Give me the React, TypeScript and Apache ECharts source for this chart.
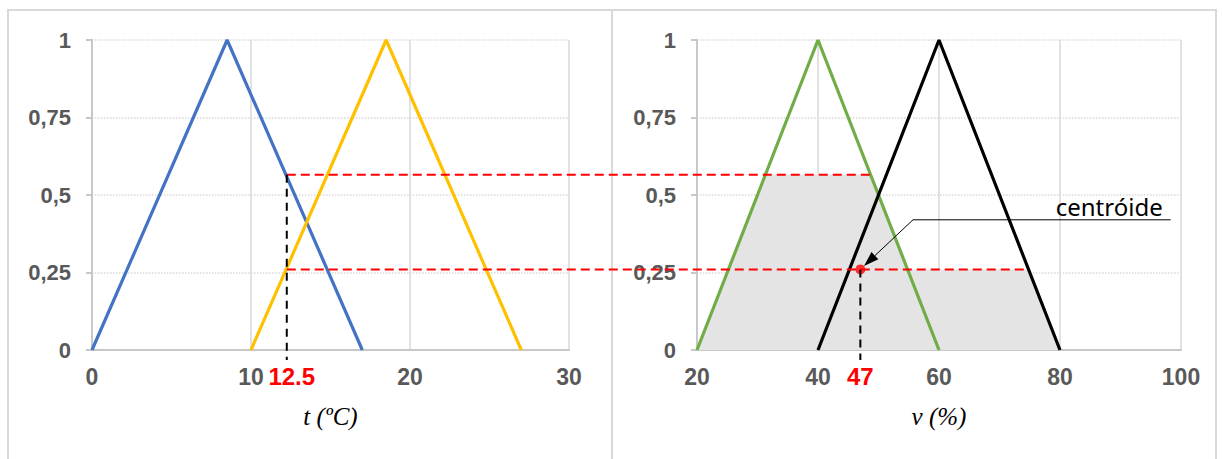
import React, { useEffect, useRef } from "react";
import * as echarts from "echarts";

// ---- data ----
const tTicks = { min: 0, max: 30, interval: 10 };
const vTicks = { min: 20, max: 100, interval: 20 };
const muTicks = { min: 0, max: 1, interval: 0.25 };

const tempLow: number[][] = [[0, 0], [8.5, 1], [17, 0]];
const tempHigh: number[][] = [[10, 0], [18.5, 1], [27, 0]];
const humLow: number[][] = [[20, 0], [40, 1], [60, 0]];
const humHigh: number[][] = [[40, 0], [60, 1], [80, 0]];

const tInput = 12.25;
const tInputLabel = "12.5";
const muLow = 0.565;
const muHigh = 0.26;

const aggregated: number[][] = [[20, 0], [31.3, 0.565], [48.7, 0.565], [54.8, 0.26], [74.8, 0.26], [80, 0]];

const centroid = 47;
const centroidLabel = "47";
const annotationText = "centróide";
const annotationElbow = [55.7, 0.42];
const annotationEnd = [98.3, 0.42];

const tName = "t (ºC)";
const vName = "v (%)";

const labelColor = "#595959";
const gridColor = "#D9D9D9";
const axisColor = "#C8C8C8";

function makeXAxis(gridIndex: number, ticks: any, name: string) {
  return {
    type: "value",
    gridIndex,
    min: ticks.min,
    max: ticks.max,
    interval: ticks.interval,
    name,
    nameLocation: "middle",
    nameGap: 54,
    nameTextStyle: { fontFamily: "Liberation Serif", fontStyle: "italic", fontSize: 25, color: "#000" },
    axisLine: { show: true, lineStyle: { color: axisColor, width: 2 } },
    axisTick: { show: false },
    axisLabel: { margin: 15, color: labelColor, fontWeight: "bold", fontSize: 23, fontFamily: "Liberation Sans" },
    splitLine: { show: true, lineStyle: { color: gridColor, width: 1.5, type: "solid" } },
  };
}

function makeYAxis(gridIndex: number) {
  return {
    type: "value",
    gridIndex,
    min: muTicks.min,
    max: muTicks.max,
    interval: muTicks.interval,
    axisLine: { show: true, onZero: false, lineStyle: { color: axisColor, width: 2 } },
    axisTick: { show: true, length: 6, lineStyle: { color: axisColor, width: 2 } },
    axisLabel: {
      margin: 21,
      color: labelColor,
      fontWeight: "bold",
      fontSize: 22,
      fontFamily: "Liberation Sans",
      formatter: (v: number) => String(v).replace(".", ","),
    },
    splitLine: { show: true, lineStyle: { color: gridColor, width: 1.5, type: "dotted" } },
  };
}

function lineSeries(data: number[][], color: string, idx: number) {
  return {
    type: "line",
    xAxisIndex: idx,
    yAxisIndex: idx,
    data,
    symbol: "none",
    lineStyle: { color, width: 3.2 },
    z: 3,
  };
}

export default function App() {
  const ref = useRef<HTMLDivElement>(null);

  useEffect(() => {
    if (!ref.current) return;
    const chart = echarts.init(ref.current, null, { renderer: "svg" });
    const option: any = {
      animation: false,
      backgroundColor: "#fff",
      grid: [
        { left: 92, top: 40, width: 477, height: 310 },
        { left: 697, top: 40, width: 484, height: 310 },
      ],
      xAxis: [makeXAxis(0, tTicks, tName), makeXAxis(1, vTicks, vName)],
      yAxis: [makeYAxis(0), makeYAxis(1)],
      series: [
        {
          type: "line",
          xAxisIndex: 1,
          yAxisIndex: 1,
          data: aggregated,
          symbol: "none",
          lineStyle: { width: 0, opacity: 0 },
          areaStyle: { color: "#E4E4E4", opacity: 1 },
          z: 1,
        },
        lineSeries(tempLow, "#4472C4", 0),
        lineSeries(tempHigh, "#FFC000", 0),
        lineSeries(humLow, "#70AD47", 1),
        lineSeries(humHigh, "#000000", 1),
        {
          type: "scatter",
          xAxisIndex: 1,
          yAxisIndex: 1,
          data: [[centroid, muHigh]],
          symbolSize: 10,
          itemStyle: { color: "#FF0000" },
          z: 10,
        },
      ],
    };
    chart.setOption(option);

    const p = (g: number, pt: number[]) => chart.convertToPixel({ gridIndex: g } as any, pt) as number[];

    const a1 = p(0, [tInput, muLow]);
    const a2 = p(1, aggregated[2]);
    const b1 = p(0, [tInput, muHigh]);
    const b2 = p(1, aggregated[4]);
    const axisY0 = p(0, [tInput, 0])[1];
    const dot = p(1, [centroid, muHigh]);
    const axisY1 = p(1, [centroid, 0])[1];
    const elbow = p(1, annotationElbow);
    const end = p(1, annotationEnd);

    // arrow
    const dx = elbow[0] - dot[0];
    const dy = elbow[1] - dot[1];
    const len = Math.sqrt(dx * dx + dy * dy);
    const ux = dx / len, uy = dy / len;
    const tip = [dot[0] + ux * 5, dot[1] + uy * 5];
    const base = [tip[0] + ux * 15, tip[1] + uy * 15];
    const px = -uy, py = ux;
    const hw = 5;

    const redDash = { stroke: "#FF0000", lineWidth: 2, lineDash: [9, 5] };
    const blackDash = { stroke: "#000000", lineWidth: 2, lineDash: [8, 6] };

    const graphics: any[] = [
      { type: "rect", z: 0, silent: true, shape: { x: 8, y: 10, width: 1208, height: 470 }, style: { fill: "none", stroke: gridColor, lineWidth: 2 } },
      { type: "line", z: 0, silent: true, shape: { x1: 612, y1: 10, x2: 612, y2: 470 }, style: { stroke: gridColor, lineWidth: 2 } },
      { type: "line", z: 100, shape: { x1: a1[0], y1: a1[1], x2: a2[0], y2: a2[1] }, style: redDash },
      { type: "line", z: 100, shape: { x1: b1[0], y1: b1[1], x2: b2[0], y2: b2[1] }, style: redDash },
      { type: "line", z: 100, shape: { x1: a1[0], y1: a1[1], x2: a1[0], y2: axisY0 + 10 }, style: blackDash },
      { type: "line", z: 100, shape: { x1: dot[0], y1: dot[1], x2: dot[0], y2: axisY1 + 10 }, style: blackDash },
      {
        type: "text", z: 100, x: a1[0] + 5, y: axisY0 + 14,
        style: { text: tInputLabel, fill: "#FF0000", font: "bold 24px 'Liberation Sans'", textAlign: "center", textVerticalAlign: "top" },
      },
      {
        type: "text", z: 100, x: dot[0], y: axisY1 + 14,
        style: { text: centroidLabel, fill: "#FF0000", font: "bold 24px 'Liberation Sans'", textAlign: "center", textVerticalAlign: "top" },
      },
      { type: "line", z: 100, shape: { x1: end[0], y1: end[1], x2: elbow[0], y2: elbow[1] }, style: { stroke: "#000", lineWidth: 1 } },
      { type: "line", z: 100, shape: { x1: elbow[0], y1: elbow[1], x2: base[0], y2: base[1] }, style: { stroke: "#000", lineWidth: 1 } },
      {
        type: "polygon", z: 100,
        shape: { points: [tip, [base[0] + px * hw, base[1] + py * hw], [base[0] - px * hw, base[1] - py * hw]] },
        style: { fill: "#000" },
      },
      {
        type: "text", z: 100, x: end[0] - 8, y: elbow[1] - 1,
        style: { text: annotationText, fill: "#000", font: "24px 'Noto Sans'", textAlign: "right", textVerticalAlign: "bottom" },
      },
    ];
    chart.setOption({ graphic: graphics });

    return () => chart.dispose();
  }, []);

  return <div ref={ref} style={{ position: "absolute", left: 0, top: 0, width: 1223, height: 459 }} />;
}
